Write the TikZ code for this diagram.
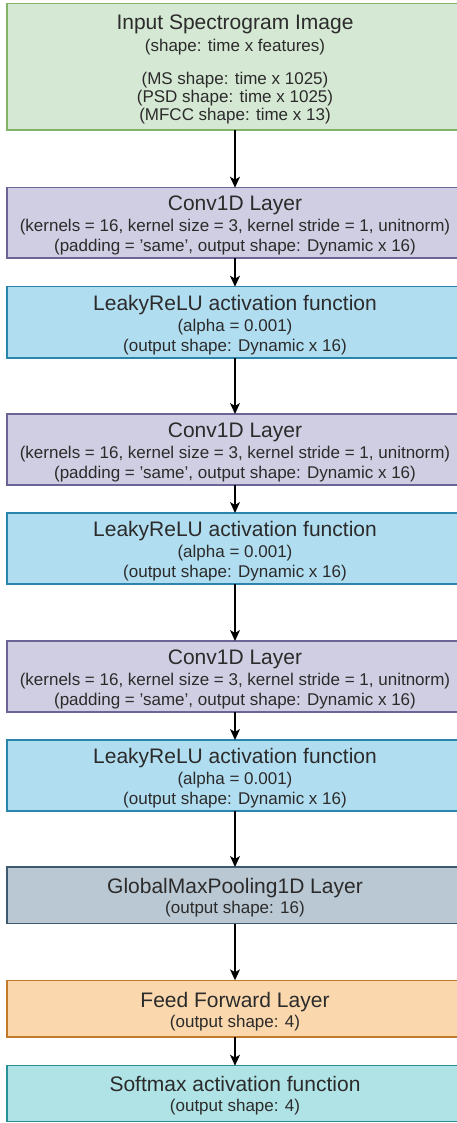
\documentclass[tikz,border=0pt]{standalone}
\usepackage{fontspec}
\setmainfont{Liberation Sans}
\usetikzlibrary{arrows.meta}
\definecolor{txt}{HTML}{2B2B2B}
\definecolor{gfill}{HTML}{D5E8D4}\definecolor{gdraw}{HTML}{82B366}
\definecolor{pfill}{HTML}{D0CEE2}\definecolor{pdraw}{HTML}{6A6594}
\definecolor{bfill}{HTML}{B1DDF0}\definecolor{bdraw}{HTML}{2A84AC}
\definecolor{sfill}{HTML}{BAC8D3}\definecolor{sdraw}{HTML}{3D5A70}
\definecolor{ofill}{HTML}{FAD7AC}\definecolor{odraw}{HTML}{C07A2A}
\definecolor{tfill}{HTML}{B0E3E6}\definecolor{tdraw}{HTML}{2A9098}
\tikzset{
  layerbox/.style={rectangle, minimum width=456pt, inner sep=0pt, outer sep=0pt, line width=1.3pt},
  ttl/.style={anchor=base, inner sep=0pt, text=txt, font=\fontsize{21}{25}\selectfont},
  sub/.style={anchor=base, inner sep=0pt, text=txt, font=\fontsize{17}{20}\selectfont},
  arr/.style={line width=1.3pt, -{Stealth[length=11pt,width=10pt,inset=3pt]}}
}
\begin{document}
\begin{tikzpicture}[x=1pt,y=-1pt]
\useasboundingbox (0,0) rectangle (457,1123);
\clip (0,0) rectangle (457,1123);
% boxes: center y = (top+bottom)/2
\node[layerbox, fill=gfill, draw=gdraw, minimum height=126.7pt] (inp) at (235,66.65) {};
\node[layerbox, fill=pfill, draw=pdraw, minimum height=70.3pt] (c1) at (235,222.85) {};
\node[layerbox, fill=bfill, draw=bdraw, minimum height=71.3pt] (l1) at (235,322.35) {};
\node[layerbox, fill=pfill, draw=pdraw, minimum height=71pt] (c2) at (235,449.5) {};
\node[layerbox, fill=bfill, draw=bdraw, minimum height=71pt] (l2) at (235,548.5) {};
\node[layerbox, fill=pfill, draw=pdraw, minimum height=71pt] (c3) at (235,676.5) {};
\node[layerbox, fill=bfill, draw=bdraw, minimum height=71pt] (l3) at (235,775.5) {};
\node[layerbox, fill=sfill, draw=sdraw, minimum height=56.5pt] (pool) at (235,895.25) {};
\node[layerbox, fill=ofill, draw=odraw, minimum height=56.7pt] (ff) at (235,1008.65) {};
\node[layerbox, fill=tfill, draw=tdraw, minimum height=56pt] (sm) at (235,1093.7) {};
% texts
\node[ttl] (inpt) at (235,30) {Input Spectrogram Image};
\node[sub] (inps1) at (235,51.5) {(shape: time x features)};
\node[sub] (inps2) at (235,85) {(MS shape: time x 1025)};
\node[sub] (inps3) at (235,103) {(PSD shape: time x 1025)};
\node[sub] (inps4) at (235,121) {(MFCC shape: time x 13)};
\foreach \n/\t in {c1/187.7, c2/414, c3/641}{
  \node[ttl] (\n t) at (235,\t+23.3) {Conv1D Layer};
  \node[sub] (\n s1) at (235,\t+44) {(kernels = 16, kernel size = 3, kernel stride = 1, unitnorm)};
  \node[sub] (\n s2) at (235,\t+64) {(padding = 'same', output shape: Dynamic x 16)};
}
\foreach \n/\t in {l1/286.7, l2/513, l3/740}{
  \node[ttl] (\n t) at (235,\t+23.3) {LeakyReLU activation function};
  \node[sub] (\n s1) at (235,\t+44.5) {(alpha = 0.001)};
  \node[sub] (\n s2) at (235,\t+64.5) {(output shape: Dynamic x 16)};
}
\node[ttl] (poolt) at (235,893.7) {GlobalMaxPooling1D Layer};
\node[sub] (pools) at (235,913.7) {(output shape: 16)};
\node[ttl] (fft) at (235,1007) {Feed Forward Layer};
\node[sub] (ffs) at (235,1027) {(output shape: 4)};
\node[ttl] (smt) at (235,1091.7) {Softmax activation function};
\node[sub] (sms) at (235,1111.7) {(output shape: 4)};
% arrows
\draw[arr] (inp.south) -- (c1.north);
\draw[arr] (c1.south) -- (l1.north);
\draw[arr] (l1.south) -- (c2.north);
\draw[arr] (c2.south) -- (l2.north);
\draw[arr] (l2.south) -- (c3.north);
\draw[arr] (c3.south) -- (l3.north);
\draw[arr] (l3.south) -- (pool.north);
\draw[arr] (pool.south) -- (ff.north);
\draw[arr] (ff.south) -- (sm.north);
\end{tikzpicture}
\end{document}
